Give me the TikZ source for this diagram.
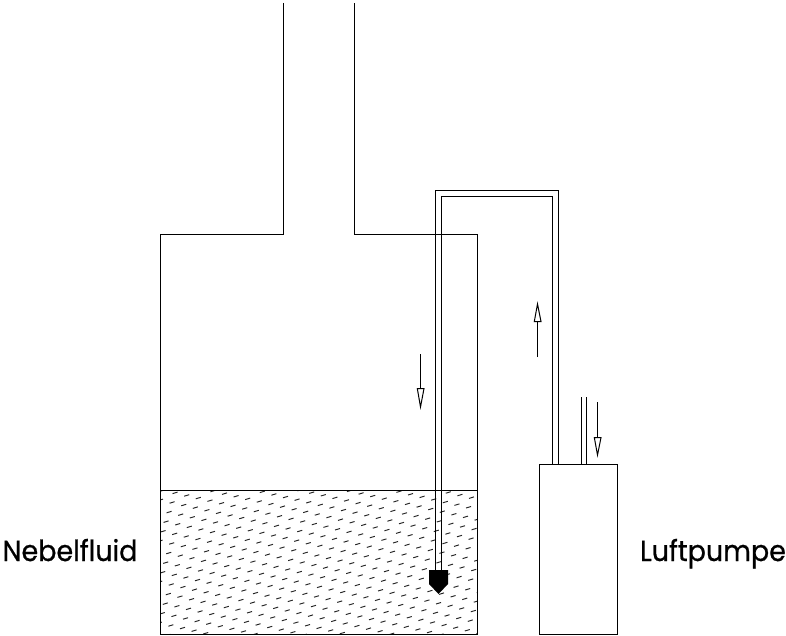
\documentclass[tikz,border=0pt]{standalone}
\usepackage{fontspec}
\setmainfont{Poppins}[FakeBold=0.7,FakeStretch=0.93]
\tikzset{
  wall/.style={draw=black,line width=1pt,line join=miter},
  openhead/.style={draw=black,fill=white,line width=1pt,line join=miter},
  dashmark/.style={draw=black!85,line width=0.95pt},
  lbl/.style={inner sep=0pt,font=\fontsize{29}{32}\selectfont,anchor=base}
}
\begin{document}
\begin{tikzpicture}[x=1pt,y=-1pt]
\useasboundingbox[fill=white] (0,0) rectangle (786,636);
% liquid hatch
\begin{scope}
\clip (160.5,490.5) rectangle (477,634);
\foreach \i in {-14,...,32}{
  \foreach \j in {-10,...,18}{
    \pgfmathsetmacro{\px}{161+11.6*\i-3.0*\j}
    \pgfmathsetmacro{\py}{491+2.6*\i+9.6*\j}
    \draw[dashmark] (\px,\py) -- ++(5,-1.5);
  }
}
\end{scope}
% container with neck
\draw[wall] (283,3) -- (283,234.5) -- (160.5,234.5) -- (160.5,634) -- (477,634) -- (477,234.5) -- (354.5,234.5) -- (354.5,3);
\draw[wall] (160.5,490.5) -- (477,490.5);
% tube
\draw[wall] (435,571) -- (435,191) -- (558,191) -- (558,464);
\draw[wall] (441,571) -- (441,197) -- (552,197) -- (552,464);
% nozzle
\fill[black] (429,570) -- (448,570) -- (448,584) -- (438.5,594) -- (429,584) -- cycle;
% pump
\draw[wall] (539.5,464.5) rectangle (617,634);
\draw[wall] (581,397) -- (581,464);
\draw[wall] (586,397) -- (586,464);
% flow arrows
\draw[wall] (420.5,354) -- (420.5,389);
\draw[openhead] (417.3,388.5) -- (424,388.5) -- (420.5,407) -- cycle;
\draw[wall] (537.5,357) -- (537.5,322);
\draw[openhead] (534.3,321.5) -- (541,321.5) -- (537.5,304) -- cycle;
\draw[wall] (597.5,402) -- (597.5,438);
\draw[openhead] (594.3,437.5) -- (601,437.5) -- (597.5,455) -- cycle;
% labels
\node[lbl] (nebel) at (70,561) {Nebelfluid};
\node[lbl] (luft) at (713,561) {Luftpumpe};
\end{tikzpicture}
\end{document}
